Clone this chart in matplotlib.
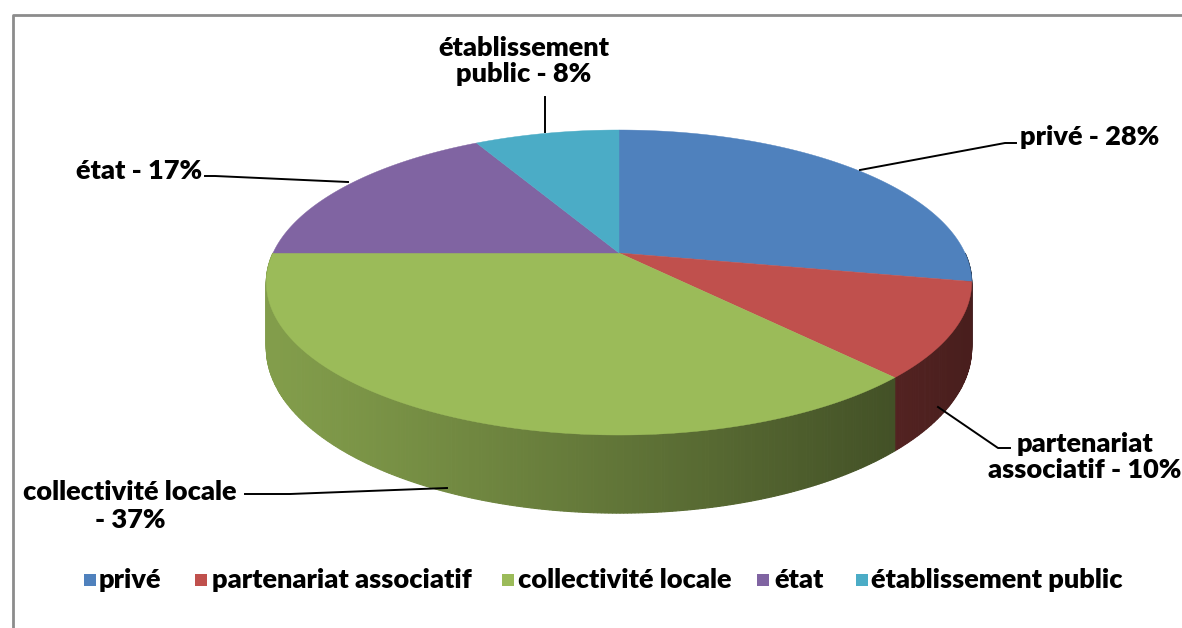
import numpy as np
import matplotlib
matplotlib.use("Agg")
import matplotlib.pyplot as plt
from matplotlib.patches import Polygon, Rectangle
from matplotlib.colors import to_rgb

# ---- data ----
categories = ["privé", "partenariat associatif", "collectivité locale", "état", "établissement public"]
values = [28, 10, 37, 17, 8]
colors = ["#4F81BD", "#C0504D", "#9BBB59", "#8064A2", "#4BACC6"]
label_texts = ["privé - 28%", "partenariat\nassociatif - 10%", "collectivité locale\n- 37%",
               "état - 17%", "établissement\npublic - 8%"]

FONT = ["Lato", "DejaVu Sans"]
FS = 19.5
FW = "heavy"
W, H = 1182, 628
fig = plt.figure(figsize=(W / 100, H / 100), dpi=100)
ax = fig.add_axes([0, 0, 1, 1])
ax.set_xlim(0, W)
ax.set_ylim(H, 0)
ax.axis("off")

# frame (chart border)
ax.plot([12.5, 12.5, W + 5], [H + 5, 14.5, 14.5], color="#8c8c8c", lw=2, solid_capstyle="butt")

# ---- 3D pie geometry ----
cx, cy = 619, 253
rx, ry = 346, 146.8
k = 0.1935
Hth = 63.0


def proj(theta_deg, drop=0.0):
    t = np.radians(theta_deg)
    c, s = np.cos(t), np.sin(t)
    f = 1.0 / (1.0 + k * s)
    return cx + rx * c * f, cy - ry * s * f + drop * Hth * f


total = float(sum(values))
angles = []
start = 90.0
for v in values:
    ext = 360.0 * v / total
    angles.append((start, start - ext))
    start -= ext


def shade(x):
    u = (x - (cx - rx)) / (2 * rx)
    return 0.84 - 0.46 * np.clip(u, 0, 1) ** 1.1


# sides (front half only: theta in [-180, 0])
for (a1, a2), col in zip(angles, colors):
    lo, hi = max(min(a1, a2), -180.0), min(max(a1, a2), 0.0)
    if hi <= lo:
        continue
    n = max(2, int((hi - lo) * 2))
    ts = np.linspace(hi, lo, n + 1)
    base = np.array(to_rgb(col))
    for i in range(n):
        t0, t1 = ts[i], ts[i + 1]
        p = [proj(t0), proj(t1), proj(t1, 1), proj(t0, 1)]
        xm = 0.5 * (p[0][0] + p[1][0])
        c = np.clip(base * shade(xm), 0, 1)
        ax.add_patch(Polygon(p, closed=True, facecolor=c, edgecolor=c, lw=0.8))

# top faces
for (a1, a2), col in zip(angles, colors):
    ts = np.linspace(a1, a2, 200)
    pts = [(cx, cy)] + [proj(t) for t in ts]
    ax.add_patch(Polygon(pts, closed=True, facecolor=col, edgecolor=col, lw=0.3))

# ---- labels with leader lines ----
label_style = dict(fontsize=FS, fontweight=FW, family=FONT, color="black",
                   linespacing=1.15)
leaders = [
    [(860, 170), (1005, 143), (1016, 143)],
    [(938, 407), (998, 448), (1010, 448)],
    [(447, 488), (290, 494), (245, 494)],
    [(348, 182), (215, 176), (205, 176)],
    [(545, 132), (545, 97)],
]
label_pos = [
    (1020, 137, "left", "center"),
    (1085, 457, "center", "center"),
    (130, 506, "center", "center"),
    (202, 171, "right", "center"),
    (524, 61, "center", "center"),
]
for pts, (x, y, ha, va), txt in zip(leaders, label_pos, label_texts):
    xs, ys = zip(*pts)
    ax.plot(xs, ys, color="black", lw=1.4)
    ax.text(x, y, txt, ha=ha, va=va, multialignment="center", **label_style)

# ---- legend ----
leg_sq_x = [84, 195, 502, 757, 856]
leg_txt_x = [99, 212, 518, 774, 871]
leg_y = 580
for cat, col, sx, tx in zip(categories, colors, leg_sq_x, leg_txt_x):
    ax.add_patch(Rectangle((sx, leg_y - 6), 12, 12, facecolor=col, edgecolor="none"))
    ax.text(tx, leg_y, cat, ha="left", va="center", fontsize=FS, fontweight=FW,
            family=FONT, color="black")

fig.savefig("out.png", dpi=100)
